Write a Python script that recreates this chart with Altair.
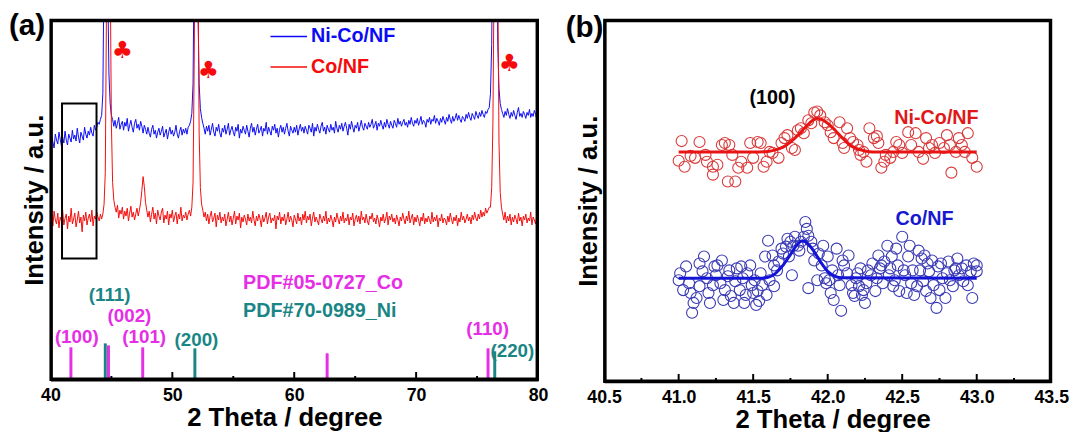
import altair as alt
import pandas as pd

FONT = "Liberation Sans"
BLUE = "#0b0bf5"
RED = "#f50b0b"
MAG = "#e62ee6"
TEAL = "#1a8585"

WA, HA = 494, 365
WB, HB = 453, 367

# ---------------- panel (a) data ----------------
two_theta = [round(40 + 0.1 * i, 1) for i in range(401)]
nico_a = [
    238, 247, 241, 235, 249, 243, 239, 251, 244, 237,
    246, 240, 252, 243, 238, 249, 245, 241, 253, 244,
    248, 242, 255, 246, 240, 251, 247, 243, 256, 249,
    245, 252, 248, 256, 250, 247, 258, 253, 256, 261,
    259, 264, 268, 290, 420, 540, 520, 400, 310, 280,
    268, 264, 257, 263, 255, 260, 266, 254, 259, 262,
    253, 261, 257, 265, 252, 258, 263, 256, 251, 260,
    264, 255, 259, 253, 262, 257, 250, 258, 254, 249,
    256, 250, 246, 254, 258, 249, 253, 245, 251, 255,
    248, 252, 257, 246, 250, 254, 244, 251, 256, 249,
    253, 247, 251, 258, 249, 245, 252, 256, 248, 254,
    250, 255, 249, 256, 258, 262, 270, 300, 440, 540,
    500, 380, 300, 275, 266, 260, 255, 249, 257, 252,
    258, 248, 254, 260, 251, 247, 256, 252, 259, 250,
    246, 255, 251, 258, 249, 254, 260, 248, 253, 257,
    251, 247, 256, 252, 259, 245, 254, 250, 257, 253,
    249, 258, 252, 246, 255, 260, 251, 256, 248, 254,
    259, 250, 253, 257, 247, 255, 252, 261, 249, 256,
    252, 248, 257, 253, 259, 250, 255, 246, 254, 258,
    251, 256, 249, 255, 260, 252, 247, 257, 253, 250,
    256, 251, 258, 248, 254, 259, 252, 256, 250, 257,
    253, 249, 258, 255, 251, 260, 247, 256, 252, 259,
    254, 250, 257, 261, 252, 256, 249, 258, 254, 251,
    259, 253, 256, 250, 262, 255, 251, 258, 254, 260,
    252, 257, 261, 255, 248, 259, 254, 262, 256, 251,
    258, 255, 261, 252, 257, 263, 256, 253, 260, 257,
    254, 261, 256, 259, 264, 255, 258, 262, 253, 260,
    257, 263, 258, 254, 261, 256, 264, 259, 255, 262,
    258, 255, 263, 260, 256, 265, 259, 262, 257, 261,
    264, 258, 261, 256, 263, 259, 266, 260, 257, 263,
    260, 265, 258, 262, 267, 259, 263, 261, 256, 264,
    261, 266, 259, 264, 262, 268, 260, 265, 262, 258,
    265, 261, 267, 263, 259, 266, 262, 269, 264, 260,
    267, 262, 265, 270, 263, 268, 264, 261, 267, 265,
    262, 269, 265, 271, 266, 263, 270, 267, 264, 272,
    268, 265, 271, 267, 273, 269, 266, 272, 270, 274,
    276, 290, 340, 480, 540, 540, 460, 340, 295, 280,
    274, 270, 266, 272, 268, 275, 269, 265, 271, 267,
    273, 268, 264, 271, 276, 267, 270, 266, 272, 269,
    265, 271, 268, 274, 266, 270, 267, 273, 269, 264,
    270,
]
co_a = [
    160, 167, 156, 171, 162, 158, 169, 154, 165, 161,
    172, 157, 164, 168, 153, 166, 160, 174, 158, 163,
    169, 155, 162, 171, 159, 165, 150, 167, 161, 170,
    157, 164, 168, 160, 172, 156, 166, 163, 170, 165,
    161, 168, 163, 168, 178, 210, 380, 540, 540, 420,
    260, 200, 182, 175, 170, 177, 164, 172, 168, 175,
    163, 171, 166, 174, 161, 169, 176, 165, 170, 162,
    168, 174, 166, 172, 180, 192, 206, 196, 180, 172,
    165, 171, 160, 168, 175, 163, 169, 158, 172, 166,
    162, 170, 174, 159, 167, 163, 171, 157, 168, 164,
    172, 160, 166, 170, 158, 168, 163, 175, 161, 167,
    164, 170, 162, 168, 172, 166, 175, 200, 330, 520,
    540, 420, 250, 195, 178, 172, 165, 170, 161, 168,
    158, 166, 171, 160, 164, 169, 155, 167, 162, 170,
    159, 165, 161, 168, 156, 163, 170, 160, 166, 157,
    164, 171, 158, 166, 162, 169, 154, 165, 160, 167,
    163, 157, 168, 161, 165, 159, 171, 162, 156, 166,
    161, 168, 163, 155, 167, 160, 164, 170, 158, 165,
    169, 159, 164, 161, 167, 153, 166, 162, 170, 158,
    165, 161, 168, 157, 163, 170, 160, 166, 162, 155,
    167, 163, 158, 169, 161, 165, 157, 168, 162, 171,
    159, 166, 162, 168, 156, 164, 170, 160, 165, 161,
    157, 168, 163, 159, 166, 161, 171, 158, 164, 160,
    167, 162, 155, 165, 160, 169, 163, 158, 166, 161,
    170, 159, 164, 161, 168, 157, 165, 162, 169, 156,
    163, 167, 160, 166, 158, 171, 162, 165, 159, 168,
    161, 157, 166, 163, 169, 160, 164, 158, 167, 162,
    155, 165, 161, 168, 159, 163, 170, 157, 166, 162,
    168, 160, 164, 158, 167, 162, 156, 165, 161, 169,
    163, 158, 166, 161, 171, 159, 164, 168, 157, 165,
    160, 167, 162, 156, 165, 161, 169, 158, 164, 160,
    166, 162, 158, 170, 160, 165, 161, 167, 155, 164,
    161, 168, 159, 164, 162, 157, 166, 160, 169, 163,
    158, 165, 161, 167, 156, 164, 160, 170, 162, 166,
    159, 163, 168, 161, 165, 158, 167, 162, 170, 164,
    161, 168, 163, 172, 165, 170, 166, 174, 169, 172,
    175, 175, 195, 260, 420, 540, 540, 400, 240, 190,
    175, 168, 162, 170, 159, 166, 161, 168, 157, 165,
    160, 167, 163, 158, 169, 161, 165, 156, 166, 162,
    168, 159, 164, 161, 170, 157, 165, 162, 158, 166,
    163,
]

co_pdf_pos = [41.68, 44.76, 47.57, 62.70, 75.90]
co_pdf_int = [33, 35, 33, 27, 32]
ni_pdf_pos = [44.50, 51.85, 76.45]
ni_pdf_int = [37, 32, 29]

hkl_text = ["(100)", "(002)", "(101)", "(110)", "(111)", "(200)", "(220)"]
hkl_x = [42.16, 46.48, 47.69, 75.87, 44.86, 51.98, 77.90]
hkl_y = [43, 65, 43, 52, 86, 40, 29]
hkl_col = [MAG, MAG, MAG, MAG, TEAL, TEAL, TEAL]

pdf_text = ["PDF#05-0727_Co", "PDF#70-0989_Ni"]
pdf_x = [55.8, 55.8]
pdf_y = [98, 70]
pdf_col = [MAG, TEAL]

leg_text = ["Ni-Co/NF", "Co/NF"]
leg_x1 = [58.05, 58.05]
leg_x2 = [61.05, 61.05]
leg_y = [348, 317]
leg_col = [BLUE, RED]

club_x = [45.9, 52.95, 77.65]
club_y = [333, 313, 320]

box_x = [40.95]
box_x2 = [43.78]
box_y = [280]
box_y2 = [123]

ticks_a_major = [50, 60, 70]
ticks_a_minor = [45, 55, 65, 75]

# ---------------- panel (b) data ----------------
nico_b_x = [41.00, 41.02, 41.04, 41.08, 41.11, 41.14, 41.18, 41.19, 41.23, 41.23,
            41.26, 41.29, 41.31, 41.33, 41.34, 41.36, 41.38, 41.40, 41.42, 41.46,
            41.48, 41.50, 41.53, 41.55, 41.57, 41.59, 41.61, 41.63, 41.67, 41.69,
            41.71, 41.73, 41.76, 41.78, 41.80, 41.82, 41.84, 41.87, 41.89, 41.91,
            41.93, 41.95, 41.98, 42.00, 42.02, 42.04, 42.08, 42.10, 42.11, 42.13,
            42.15, 42.17, 42.20, 42.21, 42.22, 42.24, 42.26, 42.28, 42.31, 42.33,
            42.34, 42.36, 42.38, 42.39, 42.42, 42.44, 42.46, 42.48, 42.50, 42.54,
            42.56, 42.59, 42.61, 42.64, 42.66, 42.68, 42.70, 42.72, 42.75, 42.78,
            42.80, 42.82, 42.83, 42.86, 42.88, 42.90, 42.92, 42.94, 42.97, 43.00]
nico_b_y = [224, 244, 218, 229, 227, 243, 230, 223, 218, 210,
            220, 240, 242, 203, 240, 230, 203, 217, 223, 217,
            242, 227, 243, 242, 218, 223, 233, 232, 227, 242,
            247, 250, 237, 235, 255, 257, 252, 265, 262, 273,
            274, 270, 263, 260, 253, 247, 263, 242, 237, 257,
            247, 243, 240, 235, 230, 233, 223, 257, 247, 249,
            242, 217, 223, 230, 227, 233, 243, 240, 232, 253,
            240, 252, 233, 226, 247, 237, 240, 232, 242, 237,
            250, 240, 212, 233, 247, 240, 233, 252, 227, 218]

co_b_x = [41.00, 41.01, 41.03, 41.05, 41.07, 41.08, 41.09, 41.10, 41.12, 41.14,
          41.14, 41.16, 41.17, 41.19, 41.20, 41.21, 41.23, 41.24, 41.25, 41.26,
          41.28, 41.29, 41.30, 41.31, 41.33, 41.34, 41.35, 41.37, 41.38, 41.39,
          41.41, 41.42, 41.43, 41.44, 41.45, 41.46, 41.48, 41.49, 41.50, 41.51,
          41.52, 41.53, 41.54, 41.55, 41.56, 41.58, 41.59, 41.60, 41.61, 41.63,
          41.64, 41.64, 41.66, 41.67, 41.69, 41.70, 41.72, 41.73, 41.74, 41.75,
          41.76, 41.77, 41.78, 41.80, 41.81, 41.82, 41.84, 41.85, 41.86, 41.87,
          41.87, 41.89, 41.90, 41.91, 41.93, 41.94, 41.96, 41.97, 41.98, 41.99,
          42.00, 42.01, 42.02, 42.03, 42.04, 42.06, 42.07, 42.08, 42.09, 42.10,
          42.11, 42.13, 42.14, 42.16, 42.17, 42.18, 42.19, 42.20, 42.21, 42.22,
          42.23, 42.24, 42.25, 42.26, 42.27, 42.29, 42.30, 42.32, 42.33, 42.34,
          42.35, 42.36, 42.37, 42.38, 42.40, 42.41, 42.42, 42.43, 42.44, 42.45,
          42.46, 42.47, 42.48, 42.50, 42.51, 42.52, 42.53, 42.54, 42.55, 42.56,
          42.57, 42.58, 42.60, 42.61, 42.62, 42.63, 42.64, 42.65, 42.66, 42.67,
          42.68, 42.69, 42.70, 42.71, 42.73, 42.74, 42.75, 42.76, 42.77, 42.79,
          42.80, 42.81, 42.82, 42.84, 42.85, 42.86, 42.87, 42.88, 42.90, 42.91,
          42.93, 42.94, 42.96, 42.97, 42.98, 43.00, 43.00]
co_b_y = [103, 110, 93, 117, 100, 90, 70, 80, 85, 120,
          97, 112, 127, 105, 90, 80, 98, 117, 108, 118,
          100, 123, 83, 93, 107, 113, 87, 80, 102, 115,
          93, 117, 105, 80, 88, 110, 118, 98, 90, 103,
          78, 92, 82, 110, 98, 127, 88, 143, 103, 128,
          118, 97, 113, 122, 135, 130, 137, 145, 127, 142,
          108, 138, 147, 138, 133, 142, 147, 162, 155, 95,
          148, 142, 135, 123, 103, 130, 118, 138, 105, 100,
          127, 103, 90, 113, 83, 135, 108, 98, 72, 123,
          118, 110, 128, 98, 90, 87, 105, 110, 97, 115,
          88, 93, 80, 100, 113, 108, 120, 92, 105, 128,
          115, 118, 100, 122, 138, 108, 115, 127, 97, 103,
          135, 118, 92, 147, 113, 108, 90, 127, 138, 100,
          113, 88, 97, 133, 113, 125, 102, 128, 92, 120,
          112, 85, 123, 98, 75, 117, 93, 120, 105, 85,
          110, 122, 103, 97, 113, 115, 125, 108, 115, 102,
          118, 98, 112, 85, 120, 112, 118]

fit_nico_x = [41.0, 41.5, 41.6, 41.65, 41.7, 41.75, 41.8, 41.85, 41.9, 41.93,
              41.96, 42.0, 42.05, 42.1, 42.15, 42.2, 42.25, 42.3, 43.0]
fit_nico_y = [233, 233, 233.5, 235, 238, 243, 250, 258, 265, 267,
              266, 262, 255, 247, 240, 236, 234, 233, 233]
fit_co_x = [41.0, 41.55, 41.6, 41.65, 41.7, 41.75, 41.8, 41.83, 41.86, 41.9,
            41.95, 42.0, 42.05, 42.1, 43.0]
fit_co_y = [105, 105, 106, 110, 118, 129, 140, 143, 141, 134,
            122, 112, 107, 105.5, 105]

b_text = ["(100)", "Ni-Co/NF", "Co/NF"]
b_text_x = [41.63, 42.73, 42.65]
b_text_y = [288, 267, 165]
b_text_col = ["black", "#e01818", "#1818d0"]

ticks_b_major = [41.0, 41.5, 42.0, 42.5, 43.0]
ticks_b_minor = [40.75, 41.25, 41.75, 42.25, 42.75, 43.25]

# plot frame edges as thin filled bars (left, right, bottom, top), in data units
frame_a = {"x": [40.0, 79.8, 40.0, 40.0], "x2": [40.2, 80.0, 80.0, 80.0],
           "y": [0, 0, 0, HA - 2.5], "y2": [HA, HA, 2.5, HA]}
frame_b = {"x": [40.5, 43.4834, 40.5, 40.5], "x2": [40.5166, 43.5, 43.5, 43.5],
           "y": [0, 0, 0, HB - 2.5], "y2": [HB, HB, 2.5, HB]}


# ---------------- helpers ----------------
def x_axis(values, fmt, title_x):
    return alt.Axis(title="2 Theta / degree", values=values, format=fmt,
                    labelFont=FONT, labelFontSize=18, labelFontWeight="bold",
                    labelColor="black", labelPadding=7, labelFlush=False,
                    labelOverlap=False, ticks=False, tickSize=0,
                    domain=True, domainColor="black", domainWidth=2,
                    grid=False, titleFont=FONT, titleFontSize=26,
                    titleFontWeight="bold", titleColor="black", titlePadding=0,
                    titleX=title_x)


Y_AXIS = alt.Axis(title="Intensity / a.u.", labels=False, ticks=False, tickSize=0,
                  domain=True, domainColor="black", domainWidth=2,
                  grid=False, titleFont=FONT, titleFontSize=26,
                  titleFontWeight="bold", titleColor="black", titlePadding=3)

AXA = x_axis([40, 50, 60, 70, 80], "d", WA / 2 - 10)
AXB = x_axis([40.5, 41.0, 41.5, 42.0, 42.5, 43.0, 43.5], ".1f", WB / 2 + 5)
SXA = alt.Scale(domain=[40, 80], nice=False, zero=False)
SYA = alt.Scale(domain=[0, HA], nice=False, zero=False)
SXB = alt.Scale(domain=[40.5, 43.5], nice=False, zero=False)
SYB = alt.Scale(domain=[0, HB], nice=False, zero=False)


def XA(f="x"):
    return alt.X(f"{f}:Q", scale=SXA, axis=AXA)


def YA(f="y"):
    return alt.Y(f"{f}:Q", scale=SYA, axis=Y_AXIS)


def XB(f="x"):
    return alt.X(f"{f}:Q", scale=SXB, axis=AXB)


def YB(f="y"):
    return alt.Y(f"{f}:Q", scale=SYB, axis=Y_AXIS)


# ---------------- panel (a) ----------------
df_nico_a = pd.DataFrame({"x": two_theta, "y": nico_a})
df_co_a = pd.DataFrame({"x": two_theta, "y": co_a})
df_co_pdf = pd.DataFrame({"x": co_pdf_pos, "y": co_pdf_int, "y0": 0})
df_ni_pdf = pd.DataFrame({"x": ni_pdf_pos, "y": ni_pdf_int, "y0": 0})
df_hkl = pd.DataFrame({"x": hkl_x, "y": hkl_y, "t": hkl_text, "c": hkl_col})
df_pdf = pd.DataFrame({"x": pdf_x, "y": pdf_y, "t": pdf_text, "c": pdf_col})
df_leg = pd.DataFrame({"x": leg_x1, "x2": leg_x2, "y": leg_y, "t": leg_text, "c": leg_col})
df_club = pd.DataFrame({"x": club_x, "y": club_y, "t": ["\u2663"] * 3})
df_box = pd.DataFrame({"x": box_x, "x2": box_x2, "y": box_y, "y2": box_y2})

line_nico_a = alt.Chart(df_nico_a).mark_line(color=BLUE, strokeWidth=1.0, clip=True).encode(x=XA(), y=YA())
line_co_a = alt.Chart(df_co_a).mark_line(color=RED, strokeWidth=1.0, clip=True).encode(x=XA(), y=YA())
stick_co = alt.Chart(df_co_pdf).mark_rule(color=MAG, strokeWidth=3).encode(x=XA(), y=YA("y0"), y2="y:Q")
stick_ni = alt.Chart(df_ni_pdf).mark_rule(color=TEAL, strokeWidth=3).encode(x=XA(), y=YA("y0"), y2="y:Q")
hkl = alt.Chart(df_hkl).mark_text(font=FONT, fontSize=19, fontWeight="bold", baseline="middle").encode(
    x=XA(), y=YA(), text="t:N", color=alt.Color("c:N", scale=None))
pdf = alt.Chart(df_pdf).mark_text(font=FONT, fontSize=20, fontWeight="bold", align="left", baseline="middle").encode(
    x=XA(), y=YA(), text="t:N", color=alt.Color("c:N", scale=None))
leg_lines = alt.Chart(df_leg).mark_rule(strokeWidth=1.5).encode(
    x=XA(), x2="x2:Q", y=YA(), color=alt.Color("c:N", scale=None))
leg_txt = alt.Chart(df_leg).mark_text(font=FONT, fontSize=20, fontWeight="bold", align="left", baseline="middle", dx=4).encode(
    x=alt.X("x2:Q", scale=SXA, axis=AXA), y=YA(), text="t:N", color=alt.Color("c:N", scale=None))
clubs = alt.Chart(df_club).mark_text(font="DejaVu Sans", fontSize=24, color=RED, baseline="middle").encode(
    x=XA(), y=YA(), text="t:N")
box = alt.Chart(df_box).mark_rect(fillOpacity=0, stroke="black", strokeWidth=2).encode(
    x=XA(), x2="x2:Q", y=YA(), y2="y2:Q")
frm_a = alt.Chart(pd.DataFrame(frame_a)).mark_rect(color="black", opacity=1).encode(
    x=XA(), x2="x2:Q", y=YA(), y2="y2:Q")
tk_a_maj = alt.Chart(pd.DataFrame({"v": ticks_a_major})).mark_rule(color="black", strokeWidth=2).encode(
    x=XA("v"), y=alt.value(HA), y2=alt.value(HA - 8))
tk_a_min = alt.Chart(pd.DataFrame({"v": ticks_a_minor})).mark_rule(color="black", strokeWidth=2).encode(
    x=XA("v"), y=alt.value(HA), y2=alt.value(HA - 4))
lab_a = alt.Chart(pd.DataFrame({"t": ["(a)"]})).mark_text(
    font=FONT, fontSize=30, fontWeight="bold", align="left", baseline="middle", color="black").encode(
    x=alt.value(-42), y=alt.value(7), text="t:N")

panel_a = alt.layer(line_nico_a, line_co_a, stick_co, stick_ni, hkl, pdf, leg_lines, leg_txt,
                    clubs, box, frm_a, tk_a_maj, tk_a_min, lab_a).properties(width=WA, height=HA)

# ---------------- panel (b) ----------------
df_nico_b = pd.DataFrame({"x": nico_b_x, "y": nico_b_y})
df_co_b = pd.DataFrame({"x": co_b_x, "y": co_b_y})
df_fit_nico = pd.DataFrame({"x": fit_nico_x, "y": fit_nico_y})
df_fit_co = pd.DataFrame({"x": fit_co_x, "y": fit_co_y})
df_btxt = pd.DataFrame({"x": b_text_x, "y": b_text_y, "t": b_text, "c": b_text_col})

pts_nico = alt.Chart(df_nico_b).mark_point(shape="circle", filled=False, size=125, strokeWidth=1.1,
                                            color="#d83a3a", opacity=1).encode(x=XB(), y=YB())
pts_co = alt.Chart(df_co_b).mark_point(shape="circle", filled=False, size=125, strokeWidth=1.1,
                                        color="#3a3ab4", opacity=1).encode(x=XB(), y=YB())
fit_nico = alt.Chart(df_fit_nico).mark_line(color="#e81414", strokeWidth=3, interpolate="monotone").encode(x=XB(), y=YB())
fit_co = alt.Chart(df_fit_co).mark_line(color="#1414d8", strokeWidth=3, interpolate="monotone").encode(x=XB(), y=YB())
btxt = alt.Chart(df_btxt).mark_text(font=FONT, fontSize=20, fontWeight="bold", baseline="middle").encode(
    x=XB(), y=YB(), text="t:N", color=alt.Color("c:N", scale=None))
frm_b = alt.Chart(pd.DataFrame(frame_b)).mark_rect(color="black", opacity=1).encode(
    x=XB(), x2="x2:Q", y=YB(), y2="y2:Q")
tk_b_maj = alt.Chart(pd.DataFrame({"v": ticks_b_major})).mark_rule(color="black", strokeWidth=2).encode(
    x=XB("v"), y=alt.value(HB), y2=alt.value(HB - 8))
tk_b_min = alt.Chart(pd.DataFrame({"v": ticks_b_minor})).mark_rule(color="black", strokeWidth=2).encode(
    x=XB("v"), y=alt.value(HB), y2=alt.value(HB - 4))
lab_b = alt.Chart(pd.DataFrame({"t": ["(b)"]})).mark_text(
    font=FONT, fontSize=30, fontWeight="bold", align="left", baseline="middle", color="black").encode(
    x=alt.value(-39), y=alt.value(9), text="t:N")

panel_b = alt.layer(pts_nico, pts_co, fit_nico, fit_co, btxt, frm_b, tk_b_maj, tk_b_min,
                    lab_b).properties(width=WB, height=HB)

chart = alt.hconcat(panel_a, panel_b, spacing=15).properties(padding=0).configure_view(
    stroke="black", strokeWidth=2)

chart.save("out.html", embed_options={"renderer": "svg", "actions": False})
